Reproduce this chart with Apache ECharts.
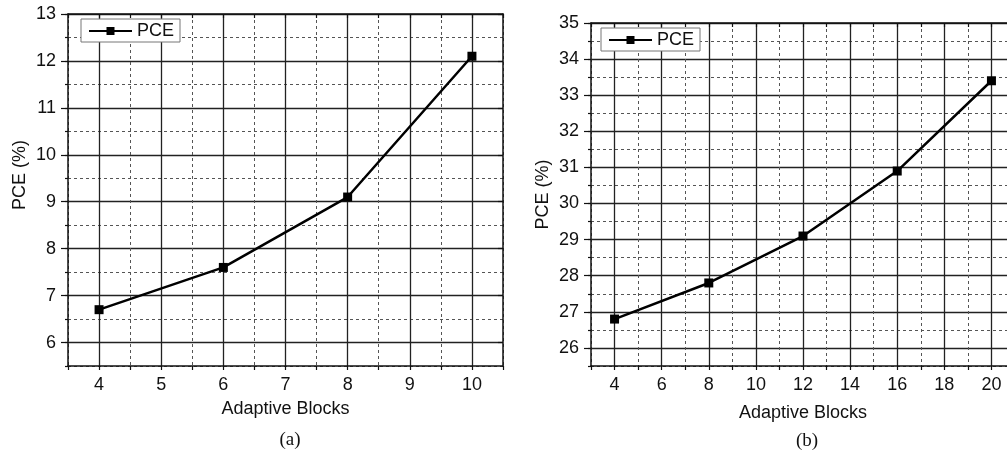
<!DOCTYPE html>
<html>
<head>
<meta charset="utf-8">
<script src="https://cdn.jsdelivr.net/npm/echarts@6/dist/echarts.min.js"></script>
<style>
html,body{margin:0;padding:0;background:#fff;}
#chart{width:1007px;height:450px;}
</style>
</head>
<body>
<div id="chart"></div>
<script>
// ---- data ----
const leftBlocks = [4, 6, 8, 10];
const leftPCE = [6.7, 7.6, 9.1, 12.1];
const rightBlocks = [4, 8, 12, 16, 20];
const rightPCE = [26.8, 27.8, 29.1, 30.9, 33.4];

const leftXTicks = [4, 5, 6, 7, 8, 9, 10];
const leftYTicks = [6, 7, 8, 9, 10, 11, 12, 13];
const rightXTicks = [4, 6, 8, 10, 12, 14, 16, 18, 20];
const rightYTicks = [26, 27, 28, 29, 30, 31, 32, 33, 34, 35];

const xName = 'Adaptive Blocks';
const yName = 'PCE (%)';
const seriesName = 'PCE';
const captions = ['(a)', '(b)'];

// ---- styling helpers ----
const FONT = 'Liberation Sans, Arial, sans-serif';
const TXT = '#111';
const AX = '#111';
const FS = 18;

function xAxes(grid, min, max, minor, ticks, nameGap) {
  return [
    { // bottom: minor ticks, dashed grid, labels
      type: 'value', gridIndex: grid, position: 'bottom', min: min, max: max, interval: minor,
      name: xName, nameLocation: 'middle', nameGap: nameGap,
      nameTextStyle: { fontFamily: FONT, fontSize: FS, color: TXT },
      axisLine: { show: true, lineStyle: { color: AX, width: 1.5 } },
      axisTick: { show: true, inside: false, length: 4, lineStyle: { color: AX, width: 1.2 } },
      axisLabel: { customValues: ticks, margin: 10, fontFamily: FONT, fontSize: FS, color: TXT },
      splitLine: { show: true, lineStyle: { color: '#555', width: 1, type: [3, 3] } }
    },
    { // top: mirror
      type: 'value', gridIndex: grid, position: 'top', min: min, max: max, interval: minor,
      axisLine: { show: true, lineStyle: { color: AX, width: 1.5 } },
      axisTick: { show: true, inside: true, length: 4, lineStyle: { color: AX, width: 1.2 } },
      axisLabel: { show: false },
      splitLine: { show: false }
    },
    { // bottom overlay: solid major grid lines
      type: 'value', gridIndex: grid, position: 'bottom', min: min, max: max,
      axisLine: { show: false },
      axisTick: { show: false, customValues: ticks },
      axisLabel: { show: false },
      splitLine: { show: true, lineStyle: { color: '#222', width: 1.3 } }
    }
  ];
}

function yAxes(grid, min, max, minor, ticks, nameGap, namePad) {
  return [
    { // left: minor ticks, dashed grid, labels
      type: 'value', gridIndex: grid, position: 'left', min: min, max: max, interval: minor,
      name: yName, nameLocation: 'middle', nameGap: nameGap,
      nameTextStyle: { fontFamily: FONT, fontSize: FS, color: TXT, padding: namePad },
      axisLine: { show: true, lineStyle: { color: AX, width: 1.5 } },
      axisTick: { show: true, inside: false, length: 3, lineStyle: { color: AX, width: 1.2 } },
      axisLabel: { customValues: ticks, margin: 12, fontFamily: FONT, fontSize: FS, color: TXT },
      splitLine: { show: true, lineStyle: { color: '#555', width: 1, type: [3, 3] } }
    },
    { // left overlay: major ticks + solid grid lines
      type: 'value', gridIndex: grid, position: 'left', min: min, max: max,
      axisLine: { show: false },
      axisTick: { show: true, inside: false, length: 7, customValues: ticks, lineStyle: { color: AX, width: 1.2 } },
      axisLabel: { show: false },
      splitLine: { show: true, lineStyle: { color: '#222', width: 1.3 } }
    },
    { // right mirror
      type: 'value', gridIndex: grid, position: 'right', min: min, max: max,
      axisLine: { show: true, lineStyle: { color: AX, width: 1.5 } },
      axisTick: { show: true, inside: true, length: 5, customValues: ticks, lineStyle: { color: AX, width: 1.2 } },
      axisLabel: { show: false },
      splitLine: { show: false }
    }
  ];
}

function legend(left, top) {
  return {
    left: left, top: top, orient: 'horizontal', data: [seriesName],
    backgroundColor: '#fff', borderColor: '#777', borderWidth: 1,
    padding: [3, 6, 2, 7], itemWidth: 43, itemHeight: 10, itemGap: 5,
    textStyle: { fontFamily: FONT, fontSize: FS, color: TXT }
  };
}

function lineSeries(xi, yi, xs, ys) {
  return {
    name: seriesName, type: 'line', xAxisIndex: xi, yAxisIndex: yi,
    data: xs.map((x, i) => [x, ys[i]]),
    symbol: 'rect', symbolSize: 9, showAllSymbol: true,
    lineStyle: { color: '#000', width: 2.5 },
    itemStyle: { color: '#000' },
    z: 10, animation: false
  };
}

const chart = echarts.init(document.getElementById('chart'), null, { renderer: 'canvas' });
chart.setOption({
  backgroundColor: '#fff',
  animation: false,
  grid: [
    { left: 68, top: 14, width: 435, bottom: 84, containLabel: false, outerBoundsMode: 'none' },
    { left: 591, top: 23, width: 424, bottom: 84, containLabel: false, outerBoundsMode: 'none' }
  ],
  legend: [legend(81, 19), legend(601, 28)],
  title: [
    { text: captions[0], left: 285, top: 426, textAlign: 'center',
      textStyle: { fontFamily: 'Liberation Serif, Times New Roman, serif', fontSize: 19, fontWeight: 'normal', color: TXT } },
    { text: captions[1], left: 802, top: 427, textAlign: 'center',
      textStyle: { fontFamily: 'Liberation Serif, Times New Roman, serif', fontSize: 19, fontWeight: 'normal', color: TXT } }
  ],
  xAxis: [].concat(
    xAxes(0, 3.5, 10.5, 0.5, leftXTicks, 34),
    xAxes(1, 3, 21, 1, rightXTicks, 38)
  ),
  yAxis: [].concat(
    yAxes(0, 5.5, 13, 0.5, leftYTicks, 39, [0, 0, 0, 30]),
    yAxes(1, 25.5, 35, 0.5, rightYTicks, 39, 0)
  ),
  series: [
    lineSeries(0, 0, leftBlocks, leftPCE),
    lineSeries(3, 3, rightBlocks, rightPCE)
  ]
});
</script>
</body>
</html>
